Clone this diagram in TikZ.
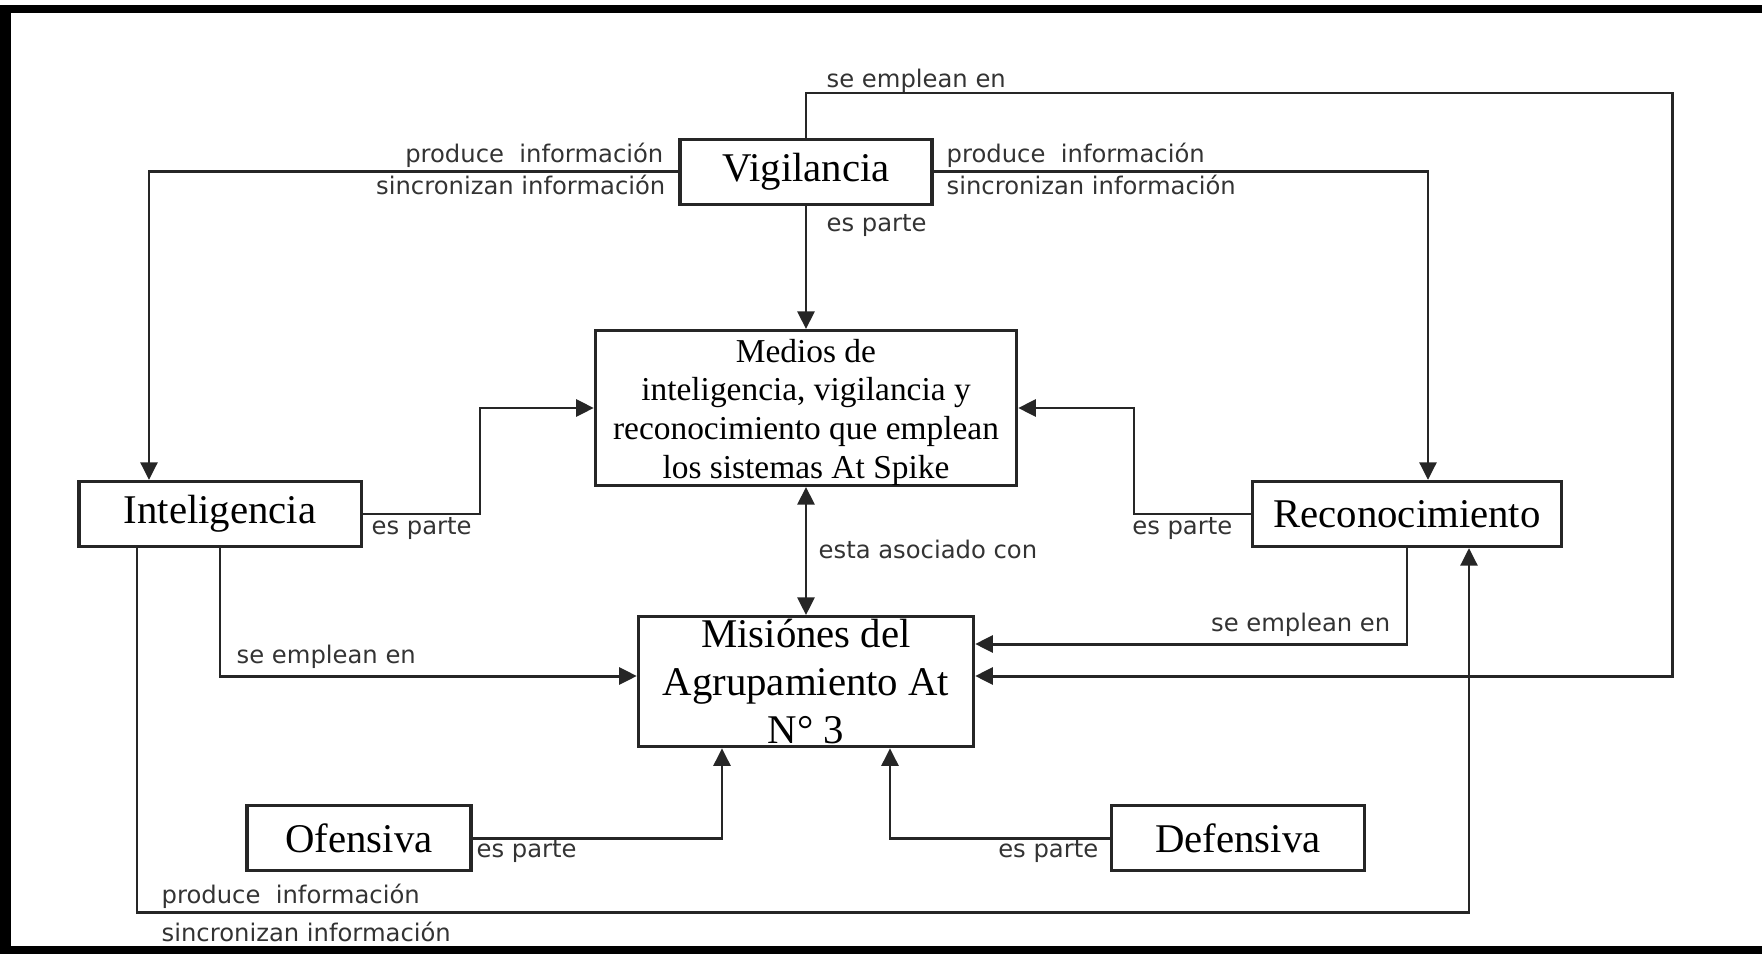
\documentclass[tikz,border=0pt]{standalone}
\usepackage{fontspec}
\setmainfont{Liberation Serif}
\newfontfamily\lblfont{DejaVu Sans}
\usetikzlibrary{arrows.meta, positioning}
\tikzset{%
    box/.style = {draw=black!85, rectangle, line width=0.9pt, inner sep=0pt,
        align=center, font=\fontsize{11.6}{13.6}\selectfont},
    line/.style = {draw=black!85, line width=0.85pt,
        -{Triangle[length=5pt, width=4.8pt]}},
    dline/.style = {line, {Triangle[length=5pt, width=4.8pt]}-{Triangle[length=5pt, width=4.8pt]}},
    lbl/.style = {font=\lblfont\fontsize{6.9}{8}\selectfont, text=black!80, inner sep=0pt},
}

\begin{document}
\begin{tikzpicture}[x=0.01cm, y=-0.01cm]
    \useasboundingbox (0,0) rectangle (1762,954);
    \fill [black] (0,5) rectangle (1762,13);
    \fill [black] (0,5) rectangle (11,954);
    \fill [black] (0,946) rectangle (1762,954);
    \node [box, minimum width=4.21cm, minimum height=1.52cm,
        font=\fontsize{9.5}{11}\selectfont] (medios) at (806,408) {\rule{0pt}{9pt}Medios de\\inteligencia, vigilancia y\\reconocimiento que emplean\\los sistemas At Spike};
    \node [box, minimum width=2.52cm, minimum height=0.65cm, above=1.23cm of medios] (vig) {Vigilancia};
    \node [box, minimum width=3.35cm, minimum height=1.30cm, below=1.28cm of medios] (mis) {Misiónes del\\Agrupamiento At\\N° 3};
    \node [box, minimum width=2.82cm, minimum height=0.65cm] (intel) at (220,514) {Inteligencia};
    \node [box, minimum width=3.08cm, minimum height=0.65cm] (recon) at (1407,514) {Reconocimiento};
    \node [box, minimum width=2.24cm, minimum height=0.65cm] (ofens) at (359,838) {Ofensiva};
    \node [box, minimum width=2.53cm, minimum height=0.65cm] (defens) at (1238,838) {Defensiva};
    \path [line] (vig.north) |- (1672,93) |- (mis.east |- 0,676);
    \path [line] (vig.west) -| (149,0 |- intel.north);
    \path [line] (vig.east) -| (1428,0 |- recon.north);
    \path [line] (vig) -- (medios);
    \path [line] (intel.east) -| (480,0 |- medios.west) -- (medios.west);
    \path [line] (recon.west) -| (1134,0 |- medios.east) -- (medios.east);
    \path [dline] (medios) -- (mis);
    \path [line] (intel.south) |- (mis.west |- 0,676);
    \path [line] (recon.south) |- (mis.east |- 0,644);
    \path [line] (137,0 |- intel.south) |- (1469,912) -- (1469,0 |- recon.south);
    \path [line] (ofens.east) -| (722,0 |- mis.south);
    \path [line] (defens.west) -| (890,0 |- mis.south);
    \node [lbl, anchor=west] (l1) at (826,81) {se emplean en};
    \node [lbl, anchor=east] (l2) at (664,155) {produce\ \ información};
    \node [lbl, anchor=east] (l3) at (666,185) {sincronizan información};
    \node [lbl, anchor=west] (l4) at (946,155) {produce\ \ información};
    \node [lbl, anchor=west] (l5) at (946,185) {sincronizan información};
    \node [lbl, anchor=west] (l6) at (826,226) {es parte};
    \node [lbl, anchor=west] (l7) at (371,528) {es parte};
    \node [lbl, anchor=east] (l8) at (1233,528) {es parte};
    \node [lbl, anchor=west] (l9) at (818,549) {esta asociado con};
    \node [lbl, anchor=west] (l10) at (236,657) {se emplean en};
    \node [lbl, anchor=east] (l11) at (1391,625) {se emplean en};
    \node [lbl, anchor=west] (l12) at (161,896) {produce\ \ información};
    \node [lbl, anchor=west] (l13) at (161,932) {sincronizan información};
    \node [lbl, anchor=west] (l14) at (476,852) {es parte};
    \node [lbl, anchor=east] (l15) at (1099,852) {es parte};
\end{tikzpicture}
\end{document}
